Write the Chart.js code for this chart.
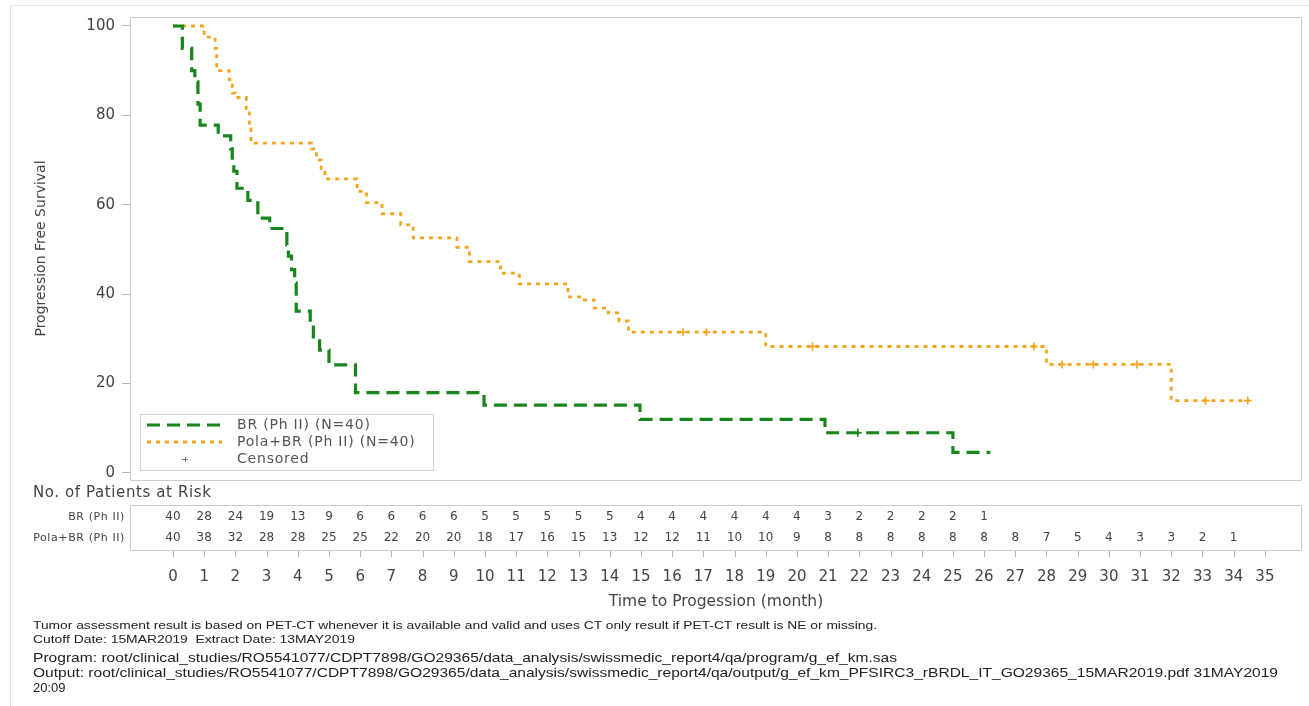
<!DOCTYPE html>
<html>
<head>
<meta charset="utf-8">
<title>Progression Free Survival</title>
<script src="https://cdn.jsdelivr.net/npm/chart.js@4.4.1/dist/chart.umd.min.js"></script>
<style>
  body { margin: 0; background: #fff; }
  #wrap { position: relative; width: 1309px; height: 706px; overflow: hidden; }
  #wrap canvas { position: absolute; left: 0; top: 0; }
  .frame { position: absolute; left: 10px; top: 5px; right: -2px; bottom: -2px; border-left: 1px solid #e2e2e2; border-top: 1px solid #e8e8e8; }
  .fn { position: absolute; left: 33px; white-space: nowrap; font-family: "Liberation Sans", Arial, sans-serif; color: #222; transform-origin: 0 50%; line-height: 1; }
</style>
</head>
<body>
<div id="wrap">
  <div class="frame"></div>
  <canvas id="km" width="1309" height="706"></canvas>
  <div class="fn" data-w="844" style="top:620px;font-size:11px">Tumor assessment result is based on PET-CT whenever it is available and valid and uses CT only result if PET-CT result is NE or missing.</div>
  <div class="fn" data-w="322" style="top:634px;font-size:11px">Cutoff Date: 15MAR2019&nbsp;&nbsp;Extract Date: 13MAY2019</div>
  <div class="fn" data-w="864" style="top:651px;font-size:13px">Program: root/clinical_studies/RO5541077/CDPT7898/GO29365/data_analysis/swissmedic_report4/qa/program/g_ef_km.sas</div>
  <div class="fn" data-w="1245" style="top:666px;font-size:13px">Output: root/clinical_studies/RO5541077/CDPT7898/GO29365/data_analysis/swissmedic_report4/qa/output/g_ef_km_PFSIRC3_rBRDL_IT_GO29365_15MAR2019.pdf 31MAY2019</div>
  <div class="fn" style="top:681px;font-size:13px">20:09</div>
</div>
<script>
// Kaplan-Meier steps (month, % progression free)
const brTime = [0, 0.3, 0.6, 0.7, 0.8, 0.87, 1.45, 1.85, 1.9, 1.95, 2.05, 2.4, 2.72, 3.1, 3.65, 3.7, 3.8, 3.9, 3.95, 4.4, 4.5, 4.7, 5.0, 5.85, 9.97, 14.97, 20.9, 25.0, 26.2]
const brSurv = [100, 95, 90, 87.5, 82.5, 77.8, 75.4, 72.5, 70, 67.5, 63.7, 61, 57, 54.7, 51, 48.5, 45.5, 42.5, 36.2, 33, 30, 27.5, 24.2, 18, 15.2, 12, 9, 4.6, 4.6]

const polaTime = [0, 1.0, 1.35, 1.4, 1.8, 1.9, 2.0, 2.35, 2.45, 2.5, 4.45, 4.6, 4.75, 4.87, 5.9, 6.2, 6.7, 7.3, 7.7, 9.1, 9.5, 10.5, 11.1, 12.66, 13.1, 13.5, 13.95, 14.3, 14.6, 19.0, 28.0, 32.0, 34.5]
const polaSurv = [100, 97.5, 95, 90, 88, 85, 84, 81.5, 77, 73.8, 72.5, 70, 67.8, 65.8, 63, 60.5, 58, 55.5, 52.6, 50.5, 47.3, 44.7, 42.3, 39.4, 38.7, 36.9, 35.8, 34, 31.5, 28.3, 24.3, 16.2, 16.2]

// censored observations
const brCensorTime = [21.95]
const brCensorSurv = [9]
const polaCensorTime = [16.35, 17.1, 20.5, 27.6, 28.5, 29.5, 30.9, 33.1, 34.45]
const polaCensorSurv = [31.5, 31.5, 28.3, 28.3, 24.3, 24.3, 24.3, 16.2, 16.2]

// number at risk, one per month starting at 0
const brAtRisk = [40, 28, 24, 19, 13, 9, 6, 6, 6, 6, 5, 5, 5, 5, 5, 4, 4, 4, 4, 4, 4, 3, 2, 2, 2, 2, 1]
const polaAtRisk = [40, 38, 32, 28, 28, 25, 25, 22, 20, 20, 18, 17, 16, 15, 13, 12, 12, 11, 10, 10, 9, 8, 8, 8, 8, 8, 8, 8, 7, 5, 4, 3, 3, 2, 1]

const monthTicks = [0, 1, 2, 3, 4, 5, 6, 7, 8, 9, 10, 11, 12, 13, 14, 15, 16, 17, 18, 19, 20, 21, 22, 23, 24, 25, 26, 27, 28, 29, 30, 31, 32, 33, 34, 35]
const survTicks = [0, 20, 40, 60, 80, 100]

const GREEN = '#17871c'
const ORANGE = '#f6a41c'
const FONT = '"DejaVu Sans", sans-serif'

const toPoints = (xs, ys) => xs.map((x, i) => ({ x, y: ys[i] }))

const brLine = {
  label: 'BR (Ph II) (N=40)',
  data: toPoints(brTime, brSurv),
  stepped: 'before',
  borderColor: GREEN,
  borderWidth: 3.2,
  borderDash: [13, 7],
  pointRadius: 0
}

const polaLine = {
  label: 'Pola+BR (Ph II) (N=40)',
  data: toPoints(polaTime, polaSurv),
  stepped: 'before',
  borderColor: ORANGE,
  borderWidth: 2.8,
  borderDash: [4, 5],
  pointRadius: 0
}

const censorSet = (data, color) => ({
  type: 'scatter',
  label: 'Censored',
  data,
  pointStyle: 'cross',
  pointRadius: 4,
  borderWidth: 1.6,
  borderColor: color,
  backgroundColor: color
})

const drawSample = (ctx, ds, x1, x2, y) => {
  ctx.save()
  ctx.strokeStyle = ds.borderColor
  ctx.lineWidth = ds.borderWidth
  ctx.setLineDash(ds.borderDash)
  ctx.beginPath()
  ctx.moveTo(x1, y)
  ctx.lineTo(x2, y)
  ctx.stroke()
  ctx.restore()
}

const decorations = {
  id: 'decorations',
  beforeDatasetsDraw(chart) {
    const { ctx, chartArea: a } = chart
    ctx.save()
    ctx.strokeStyle = '#cdcdcd'
    ctx.lineWidth = 1
    ctx.strokeRect(a.left + 0.5, a.top + 0.5, a.right - a.left - 1, a.bottom - a.top)
    ctx.restore()
  },
  afterDraw(chart) {
    const { ctx, chartArea: a, scales: { x } } = chart
    ctx.save()

    // number at risk table
    ctx.strokeStyle = '#cdcdcd'
    ctx.lineWidth = 1
    ctx.strokeRect(a.left + 0.5, 505.5, a.right - a.left - 1, 45)
    ctx.strokeStyle = '#b5b5b5'
    monthTicks.forEach(m => {
      const px = Math.round(x.getPixelForValue(m)) + 0.5
      ctx.beginPath()
      ctx.moveTo(px, 551)
      ctx.lineTo(px, 557)
      ctx.stroke()
    })

    ctx.fillStyle = '#444'
    ctx.textBaseline = 'middle'
    ctx.font = '15px ' + FONT
    ctx.letterSpacing = '0.6px'
    ctx.textAlign = 'left'
    ctx.fillText('No. of Patients at Risk', 33, 493)

    ctx.font = '11px ' + FONT
    ctx.textAlign = 'right'
    ctx.fillText('BR (Ph II)', 125, 517)
    ctx.fillText('Pola+BR (Ph II)', 125, 538)

    ctx.letterSpacing = '0px'
    ctx.font = '12px ' + FONT
    ctx.textAlign = 'center'
    brAtRisk.forEach((n, i) => ctx.fillText(n, x.getPixelForValue(i), 517))
    polaAtRisk.forEach((n, i) => ctx.fillText(n, x.getPixelForValue(i), 538))

    // legend box inside the plot
    ctx.fillStyle = '#fff'
    ctx.fillRect(140, 414, 293, 56)
    ctx.strokeStyle = '#d0d0d0'
    ctx.strokeRect(140.5, 414.5, 293, 56)
    drawSample(ctx, brLine, 147, 222, 425)
    drawSample(ctx, polaLine, 147, 222, 442)
    ctx.strokeStyle = '#777'
    ctx.lineWidth = 1
    ctx.beginPath()
    ctx.moveTo(182, 459.5)
    ctx.lineTo(188, 459.5)
    ctx.moveTo(185.5, 457)
    ctx.lineTo(185.5, 462)
    ctx.stroke()

    ctx.fillStyle = '#555'
    ctx.font = '14px ' + FONT
    ctx.letterSpacing = '0.8px'
    ctx.textAlign = 'left'
    ctx.fillText(brLine.label, 237, 425)
    ctx.fillText(polaLine.label, 237, 442)
    ctx.fillText('Censored', 237, 459)

    ctx.restore()
  }
}

const ctx = document.getElementById('km')

new Chart(ctx, {
  type: 'line',
  data: {
    datasets: [
      brLine,
      polaLine,
      censorSet(toPoints(brCensorTime, brCensorSurv), GREEN),
      censorSet(toPoints(polaCensorTime, polaCensorSurv), ORANGE)
    ]
  },
  options: {
    responsive: false,
    animation: false,
    layout: { padding: { top: 17, right: 7, bottom: 95, left: 0 } },
    plugins: {
      legend: { display: false },
      tooltip: { enabled: false }
    },
    scales: {
      x: {
        type: 'linear',
        min: -1.378,
        max: 36.19,
        afterBuildTicks: scale => { scale.ticks = monthTicks.map(value => ({ value })) },
        afterFit: scale => {
          scale.height = 131
          scale.paddingLeft = 0
          scale.paddingRight = 0
        },
        grid: { display: false },
        border: { display: false },
        ticks: {
          padding: 80,
          maxRotation: 0,
          autoSkip: false,
          color: '#444',
          font: { family: 'DejaVu Sans', size: 15 }
        },
        title: {
          display: true,
          text: 'Time to Progession (month)',
          color: '#444',
          padding: { top: 0, bottom: 0 },
          font: { family: 'DejaVu Sans', size: 15.5 }
        }
      },
      y: {
        min: -1.566,
        max: 102.01,
        afterBuildTicks: scale => { scale.ticks = survTicks.map(value => ({ value })) },
        afterFit: scale => { scale.width = 130 },
        grid: { drawOnChartArea: false, tickLength: 8, color: '#b5b5b5' },
        border: { display: false },
        ticks: {
          padding: 7,
          color: '#444',
          font: { family: 'DejaVu Sans', size: 15 }
        },
        title: {
          display: true,
          text: 'Progression Free Survival',
          color: '#444',
          padding: { top: 33, bottom: 0 },
          font: { family: 'DejaVu Sans', size: 14 }
        }
      }
    }
  },
  plugins: [decorations]
})

document.querySelectorAll('.fn[data-w]').forEach(el => {
  const w = el.getBoundingClientRect().width
  el.style.transform = `scaleX(${el.dataset.w / w})`
})
</script>
</body>
</html>
